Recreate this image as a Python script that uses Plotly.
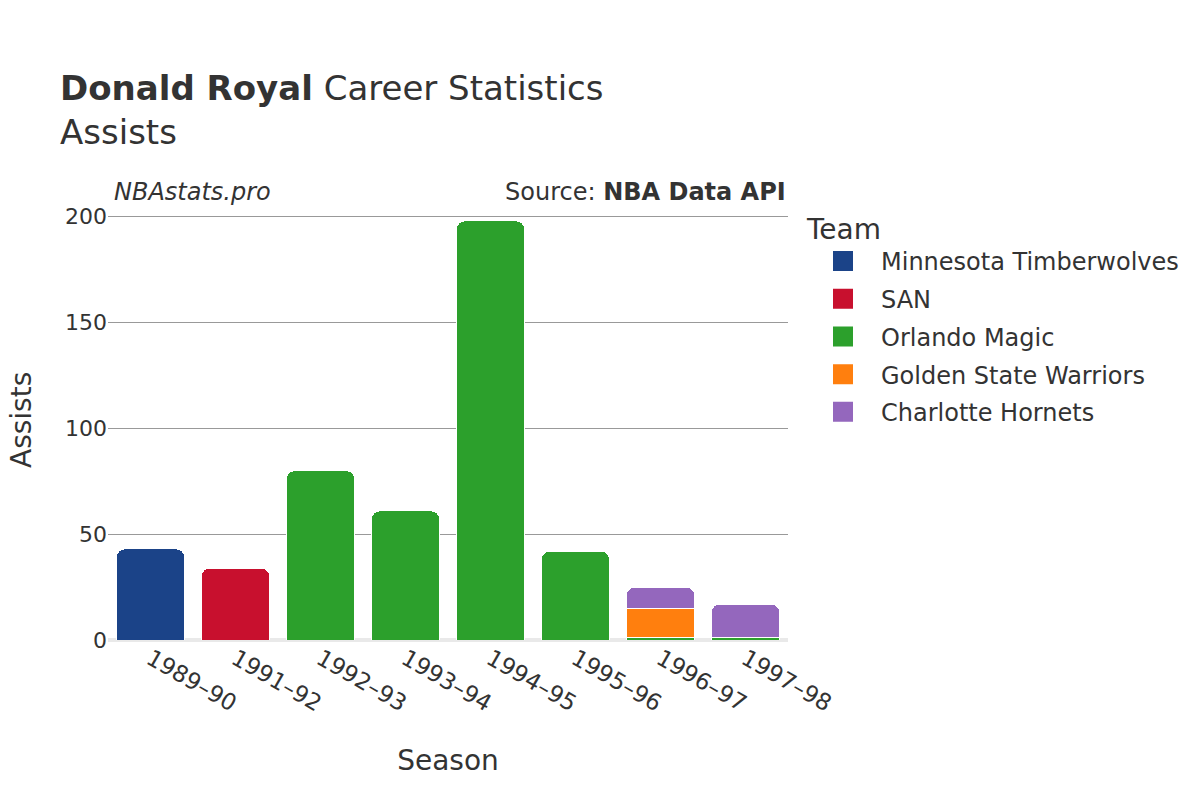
import plotly.graph_objects as go

seasons = ["1989–90", "1991–92", "1992–93", "1993–94", "1994–95", "1995–96", "1996–97", "1997–98"]
teams = ["Minnesota Timberwolves", "SAN", "Orlando Magic", "Golden State Warriors", "Charlotte Hornets"]
colors = ["#1b4388", "#c8102e", "#2ca02c", "#ff7f0e", "#9467bd"]
values = {
    "Minnesota Timberwolves": [43, None, None, None, None, None, None, None],
    "SAN": [None, 34, None, None, None, None, None, None],
    "Orlando Magic": [None, None, 80, 61, 198, 42, 1, 1],
    "Golden State Warriors": [None, None, None, None, None, None, 14, None],
    "Charlotte Hornets": [None, None, None, None, None, None, 10, 16],
}

FONT = "DejaVu Sans"
fig = go.Figure()
for t, c in zip(teams, colors):
    fig.add_trace(go.Bar(x=seasons, y=values[t], name=t, marker_color=c,
                         marker_line=dict(color="white", width=1), showlegend=False))
# legend entries with larger square swatches
for t, c in zip(teams, colors):
    fig.add_trace(go.Scatter(x=[seasons[0]], y=[None], mode="markers", name=t,
                             legendgroup=t,
                             marker=dict(color=c, size=16, symbol="square",
                                         line=dict(color=c, width=4)),
                             hoverinfo="skip"))

W0, H0 = 680, 434
fig.update_layout(
    barmode="stack",
    bargap=0.2,
    barcornerradius=8,
    width=1200, height=800,
    paper_bgcolor="white", plot_bgcolor="white",
    margin=dict(l=100, r=420, t=198, b=168),
    font=dict(family=FONT, color="#333333", size=22),
    title=dict(text="<b>Donald Royal</b> Career Statistics<br>Assists",
               x=52/1200, xanchor="left", y=1-92/800, yanchor="middle",
               font=dict(size=34, family=FONT, color="#333333")),
    legend=dict(title=dict(text="Team", font=dict(size=28)), x=(797-100)/W0, y=1.008,
                xanchor="left", yanchor="top", font=dict(size=24),
                tracegroupgap=3.5, itemwidth=66, traceorder="grouped"),
    xaxis=dict(title=dict(text="Season", font=dict(size=28), standoff=34),
               tickangle=30, tickfont=dict(size=23), showgrid=False,
               range=[-0.5, 7.5], automargin=False,
               categoryorder="array", categoryarray=seasons),
    yaxis=dict(range=[0, 205], tickvals=[0, 50, 100, 150, 200], automargin=False,
               tickfont=dict(size=22), showgrid=True, gridcolor="#999999",
               gridwidth=1, ticks="",
               zeroline=True, zerolinecolor="rgba(225,225,225,0.75)", zerolinewidth=4,
               layer="above traces"),
    annotations=[
        dict(text="Assists", x=(13-100)/W0, y=(632-412)/H0, xref="paper", yref="paper",
             xanchor="center", yanchor="middle", textangle=-90, showarrow=False,
             font=dict(size=28, color="#333333")),
        dict(text="<i>NBAstats.pro</i>", x=(104-100)/W0, y=(632-184)/H0, xref="paper", yref="paper",
             xanchor="left", yanchor="middle", showarrow=False, font=dict(size=24, color="#333333")),
        dict(text="Source: <b>NBA Data API</b>", x=(780-100)/W0, y=(632-184)/H0, xref="paper", yref="paper",
             xanchor="right", yanchor="middle", showarrow=False, font=dict(size=24, color="#333333")),
    ],
)

fig.write_html("out.html")
